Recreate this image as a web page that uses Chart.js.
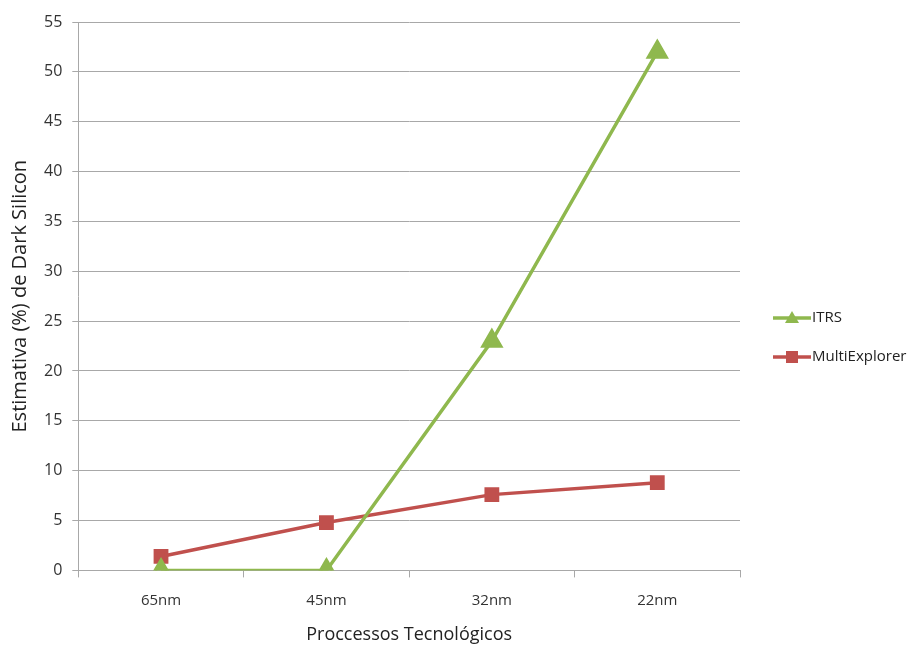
<!DOCTYPE html>
<html><head><meta charset="utf-8">
<script src="https://cdn.jsdelivr.net/npm/chart.js@4"></script>
<style>html,body{margin:0;padding:0;background:#fff;}#wrap{width:917px;height:646px;}</style>
</head><body><div id="wrap"><canvas id="c" width="917" height="646"></canvas></div>
<script>
const categories = ["65nm", "45nm", "32nm", "22nm"];
const itrsValues = [0, 0, 23, 52];
const multiExplorerValues = [1.4, 4.8, 7.6, 8.8];
const seriesNames = ["ITRS", "MultiExplorer"];
const yTitle = "Estimativa (%) de Dark Silicon";
const xTitle = "Proccessos Tecnológicos";

const FONT = "'Open Sans', 'Liberation Sans', sans-serif";
const GREEN = "#8fb84e";
const RED = "#c0504d";
const GRID = "#a8a8a8";

const legendPlugin = {
  id: 'customLegend',
  afterDraw(chart) {
    const ctx = chart.ctx;
    const x0 = chart.chartArea.right + 33;
    const items = [
      {y: 318, color: GREEN, style: 'triangle', label: seriesNames[0]},
      {y: 357, color: RED, style: 'rect', label: seriesNames[1]}
    ];
    ctx.save();
    items.forEach(it => {
      ctx.strokeStyle = it.color;
      ctx.lineWidth = 3.5;
      ctx.beginPath();
      ctx.moveTo(x0, it.y);
      ctx.lineTo(x0 + 38, it.y);
      ctx.stroke();
      ctx.fillStyle = it.color;
      ctx.beginPath();
      if (it.style === 'rect') {
        ctx.fillRect(x0 + 13, it.y - 6, 12, 12);
      } else {
        ctx.moveTo(x0 + 19, it.y - 7);
        ctx.lineTo(x0 + 26, it.y + 5);
        ctx.lineTo(x0 + 12, it.y + 5);
        ctx.closePath();
        ctx.fill();
      }
      ctx.fillStyle = '#222';
      ctx.font = "15px " + FONT;
      ctx.textBaseline = 'middle';
      ctx.textAlign = 'left';
      ctx.fillText(it.label, x0 + 39, it.y);
    });
    ctx.restore();
  }
};

new Chart(document.getElementById('c'), {
  type: 'line',
  data: {
    labels: categories,
    datasets: [
      {label: seriesNames[0], data: itrsValues, borderColor: GREEN, backgroundColor: GREEN,
       borderWidth: 3.5, pointStyle: 'triangle', pointRadius: 10, pointHoverRadius: 10, tension: 0, order: 1},
      {label: seriesNames[1], data: multiExplorerValues, borderColor: RED, backgroundColor: RED,
       borderWidth: 3.5, pointStyle: 'rect', pointRadius: 8, pointHoverRadius: 8, tension: 0, order: 2}
    ]
  },
  options: {
    responsive: false,
    animation: false,
    devicePixelRatio: 1,
    layout: {padding: {left: 8, right: 177, top: 22, bottom: 0}},
    plugins: {legend: {display: false}, tooltip: {enabled: false}},
    scales: {
      x: {
        offset: true,
        grid: {display: true, drawOnChartArea: false, offset: true, color: GRID, tickLength: 7, tickColor: GRID},
        border: {display: true, color: GRID, width: 1},
        ticks: {color: '#333', font: {family: FONT, size: 15}, padding: 14},
        title: {display: true, text: xTitle, color: '#222', font: {family: FONT, size: 18}, padding: {top: 1, bottom: 0}}
      },
      y: {
        min: 0, max: 55,
        ticks: {stepSize: 5, color: '#333', font: {family: FONT, size: 16}, padding: 10},
        grid: {color: GRID, tickLength: 6, tickColor: GRID},
        border: {display: true, color: GRID, width: 1},
        title: {display: true, text: yTitle, color: '#222', font: {family: FONT, size: 20}, padding: {top: 0, bottom: 2}}
      }
    }
  },
  plugins: [legendPlugin]
});
</script>
</body></html>
